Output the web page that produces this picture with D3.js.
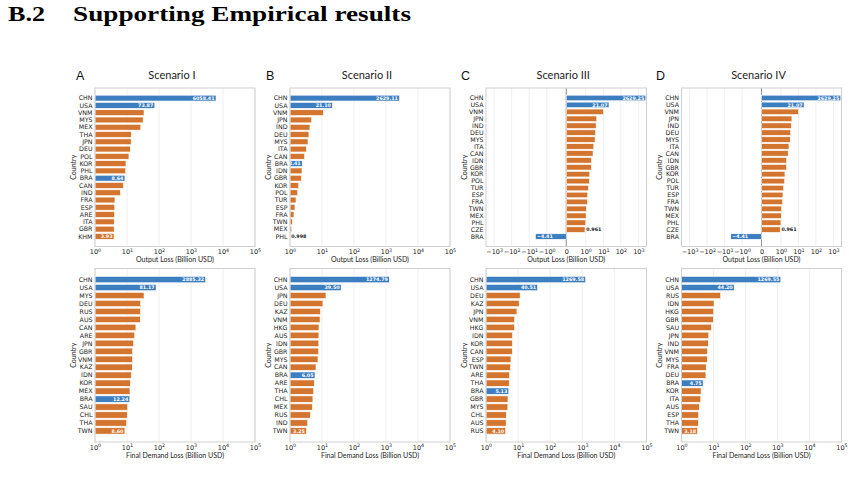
<!DOCTYPE html>
<html>
<head>
<meta charset="utf-8">
<script src="https://cdn.jsdelivr.net/npm/d3@7"></script>
<style>
  body { margin: 0; background: #fff; }
</style>
</head>
<body>
<svg id="fig" width="852" height="490"></svg>
<script>
// ---- data (Billion USD) ----
const highlight = ["CHN", "USA", "BRA"];

// Output loss, scenarios I - IV
const outCountriesI = ["CHN","USA","VNM","MYS","MEX","THA","JPN","DEU","POL","KOR","PHL","BRA","CAN","IND","FRA","ESP","ARE","ITA","GBR","KHM"];
const outValuesI = [6058.41, 73.87, 34, 32, 27, 13.6, 13.5, 12.7, 11.5, 9.3, 9.1, 8.64, 7.7, 6.2, 4.2, 4.15, 4.1, 4.0, 3.98, 3.93];

const outCountriesII = ["CHN","USA","VNM","JPN","IND","DEU","MYS","ITA","CAN","BRA","IDN","GBR","KOR","POL","TUR","ESP","FRA","TWN","MEX","PHL"];
const outValuesII = [2629.11, 21.10, 11, 4.75, 4.2, 3.9, 3.65, 3.24, 2.87, 2.41, 2.37, 2.26, 1.87, 1.74, 1.54, 1.43, 1.33, 1.18, 1.13, 0.998];

const outCountriesIII = ["CHN","USA","VNM","JPN","IND","DEU","MYS","ITA","CAN","IDN","GBR","KOR","POL","TUR","ESP","FRA","TWN","MEX","PHL","CZE","BRA"];
const outValuesIII = [2629.25, 21.07, 10.2, 4.25, 3.9, 3.6, 3.4, 2.87, 2.6, 2.12, 2.1, 1.7, 1.62, 1.42, 1.3, 1.25, 1.09, 1.05, 1.0, 0.961, -4.41];

const outCountriesIV = ["CHN","USA","VNM","JPN","IND","DEU","MYS","ITA","CAN","IDN","GBR","KOR","POL","TUR","ESP","FRA","TWN","MEX","PHL","CZE","BRA"];
const outValuesIV = [2629.25, 21.07, 10.2, 4.25, 3.9, 3.6, 3.4, 2.87, 2.6, 2.12, 2.1, 1.7, 1.62, 1.42, 1.3, 1.25, 1.09, 1.05, 1.0, 0.961, -4.41];

// Final demand loss, scenarios I - IV
const fdCountriesI = ["CHN","USA","MYS","DEU","RUS","AUS","CAN","ARE","JPN","GBR","VNM","KAZ","IDN","KOR","MEX","BRA","SAU","CHL","THA","TWN"];
const fdValuesI = [2885.32, 81.17, 34, 26.7, 26.5, 26, 19, 17.4, 16.1, 15, 14.9, 14.7, 13.6, 12.8, 12.4, 12.24, 10.5, 10.2, 9.8, 8.60];

const fdCountriesII = ["CHN","USA","JPN","DEU","KAZ","VNM","HKG","AUS","IDN","GBR","MYS","CAN","BRA","ARE","THA","CHL","MEX","RUS","IND","TWN"];
const fdValuesII = [1274.79, 39.50, 13.3, 10.7, 8.9, 8.7, 8.05, 8.0, 7.95, 7.9, 7.5, 6.5, 6.05, 5.75, 5.5, 5.2, 5.0, 4.3, 3.57, 3.25];

const fdCountriesIII = ["CHN","USA","DEU","KAZ","JPN","VNM","HKG","IDN","KOR","CAN","ESP","TWN","ARE","THA","BRA","GBR","MYS","CHL","AUS","RUS"];
const fdValuesIII = [1269.58, 40.51, 11.6, 10.8, 9.2, 7.8, 7.7, 6.7, 6.65, 6.6, 6.0, 5.8, 5.4, 5.3, 5.13, 4.85, 4.8, 4.3, 4.25, 4.10];

const fdCountriesIV = ["CHN","USA","RUS","IDN","HKG","GBR","SAU","JPN","IND","VNM","MYS","FRA","DEU","BRA","KOR","ITA","AUS","ESP","THA","TWN"];
const fdValuesIV = [1269.55, 44.20, 16.7, 10.4, 10.1, 9.9, 8.6, 7.1, 6.9, 6.45, 6.4, 5.9, 5.8, 4.75, 4.1, 4.0, 3.6, 3.45, 3.4, 3.18];

const scenarioTitles = ["Scenario I", "Scenario II", "Scenario III", "Scenario IV"];
const panelLetters = ["A", "B", "C", "D"];
const logTickExps = [0, 1, 2, 3, 4, 5];
const symTickValues = [-1000, -100, -10, -1, 0, 1, 10, 100, 1000];

const blue = "#3c7ec0", orange = "#d4752f";
const tickFont = "DejaVu Sans", labelFont = "Lato";

const svg = d3.select("#fig");

// header
svg.append("text").attr("x", 8).attr("y", 21)
  .attr("font-family", "Liberation Serif").attr("font-weight", "bold").attr("font-size", 21)
  .attr("textLength", 37).attr("lengthAdjust", "spacingAndGlyphs").text("B.2");
svg.append("text").attr("x", 73).attr("y", 21)
  .attr("font-family", "Liberation Serif").attr("font-weight", "bold").attr("font-size", 21)
  .attr("textLength", 338).attr("lengthAdjust", "spacingAndGlyphs").text("Supporting Empirical results");

// matplotlib-like symlog transform (linthresh 1, linscale 1)
const symT = v => Math.abs(v) <= 1 ? v / 0.9 : Math.sign(v) * (1 / 0.9 + Math.log10(Math.abs(v)));

function supLabel(textSel, base, exp) {
  textSel.text(null);
  textSel.append("tspan").text(base);
  if (exp !== null) textSel.append("tspan").attr("dy", -2.7).attr("font-size", 4.8).text(exp);
}

function panel(opt) {
  const { left, right, top, bottom, countries, values, symlog } = opt;
  const g = svg.append("g");
  const n = countries.length;
  const marg = 0.05 * (n - 1 + 0.8) + 0.4;
  const y = d3.scaleLinear().domain([-marg, n - 1 + marg]).range([top, bottom]);
  const step = y(1) - y(0);

  let x, lin, lg;
  if (symlog) {
    lin = d3.scaleLinear().domain([symT(-opt.lim), symT(opt.lim)]).range([left, right]);
    x = v => lin(symT(v));
  } else {
    lg = d3.scaleLog().domain([1, 1e5]).range([left, right]);
    x = v => lg(v);
  }
  const base = symlog ? x(0) : left;

  // grid
  const gridVals = symlog ? symTickValues : logTickExps.map(e => Math.pow(10, e));
  g.selectAll("line.grid").data(gridVals).enter().append("line")
    .attr("x1", d => x(d)).attr("x2", d => x(d))
    .attr("y1", top).attr("y2", bottom)
    .attr("stroke", "#ebebeb").attr("stroke-width", 0.8);

  if (symlog) {
    g.append("line").attr("x1", x(0)).attr("x2", x(0)).attr("y1", top).attr("y2", bottom)
      .attr("stroke", "#777").attr("stroke-width", 0.8);
  }

  // bars
  g.selectAll("rect.bar").data(values).enter().append("rect")
    .attr("x", d => Math.min(base, Math.max(left, x(d))))
    .attr("width", d => Math.abs(Math.max(left, x(d)) - base))
    .attr("y", (d, i) => y(i) - 0.4 * step)
    .attr("height", 0.8 * step)
    .attr("fill", (d, i) => highlight.includes(countries[i]) ? blue : orange)
    .attr("stroke", "#fff").attr("stroke-width", 0.6);

  // value labels: highlighted bars and the last orange bar
  let lastOrange = -1;
  countries.forEach((c, i) => { if (!highlight.includes(c)) lastOrange = i; });
  values.forEach((v, i) => {
    if (!highlight.includes(countries[i]) && i !== lastOrange) return;
    const end = Math.max(left, x(v));
    const txt = Math.abs(v) < 1 ? d3.format(".3f")(v) : d3.format(".2f")(v);
    const inside = Math.abs(v) >= 1;
    const t = g.append("text")
      .attr("y", y(i)).attr("dy", "0.36em")
      .attr("font-family", tickFont).attr("font-weight", "bold").attr("font-size", 4.8)
      .text(txt);
    if (inside) {
      t.attr("fill", "#fff")
        .attr("x", v >= 0 ? end - 1.5 : end + 1.5)
        .attr("text-anchor", v >= 0 ? "end" : "start");
    } else {
      t.attr("fill", "#111").attr("x", end + 1.2).attr("text-anchor", "start");
    }
  });

  // frame
  g.append("rect").attr("x", left).attr("y", top)
    .attr("width", right - left).attr("height", bottom - top)
    .attr("fill", "none").attr("stroke", "#cfcfcf").attr("stroke-width", 1);

  // y tick labels
  g.selectAll("text.cty").data(countries).enter().append("text")
    .attr("x", left - 2.5).attr("y", (d, i) => y(i)).attr("dy", "0.36em")
    .attr("text-anchor", "end").attr("font-family", tickFont).attr("font-size", 6.3)
    .attr("fill", "#222").text(d => d);

  // x axis
  const axisG = g.append("g").attr("transform", `translate(0,${bottom})`);
  if (symlog) {
    axisG.call(d3.axisBottom(lin).tickValues(symTickValues.map(symT)).tickSize(0).tickPadding(3.2));
    axisG.selectAll(".tick text").each(function (d, i) {
      const v = symTickValues[i];
      const sel = d3.select(this);
      if (v === 0) supLabel(sel, "0", null);
      else supLabel(sel, (v < 0 ? "\u2212" : "") + "10", String(Math.round(Math.log10(Math.abs(v)))));
    });
  } else {
    axisG.call(d3.axisBottom(lg).tickValues(logTickExps.map(e => Math.pow(10, e))).tickSize(0).tickPadding(3.2));
    axisG.selectAll(".tick text").each(function (d, i) {
      supLabel(d3.select(this), "10", String(logTickExps[i]));
    });
  }
  axisG.select(".domain").remove();
  axisG.selectAll(".tick text").attr("font-family", tickFont).attr("font-size", 6.5).attr("fill", "#222");

  // axis labels
  g.append("text").attr("x", (left + right) / 2).attr("y", bottom + 15.5)
    .attr("text-anchor", "middle").attr("font-family", labelFont).attr("font-size", 7)
    .attr("fill", "#222").text(opt.xlabel);
  g.append("text")
    .attr("transform", `translate(${left - 19.5},${(top + bottom) / 2}) rotate(-90)`)
    .attr("text-anchor", "middle").attr("font-family", labelFont).attr("font-size", 7)
    .attr("fill", "#222").text("Country");

  if (opt.title) {
    g.append("text").attr("x", (left + right) / 2 - 3).attr("y", 79)
      .attr("text-anchor", "middle").attr("font-family", labelFont).attr("font-size", 11)
      .attr("fill", "#222").text(opt.title);
    g.append("text").attr("x", opt.letterX).attr("y", 80)
      .attr("font-family", "Liberation Sans").attr("font-size", 12.5)
      .attr("fill", "#111").text(opt.letter);
  }
}

const cols = [
  { left: 95, right: 255, letterX: 76 },
  { left: 290, right: 450, letterX: 266 },
  { left: 486, right: 646.5, letterX: 461 },
  { left: 681.5, right: 841.5, letterX: 656 }
];
const topRow = [
  [outCountriesI, outValuesI, false],
  [outCountriesII, outValuesII, false],
  [outCountriesIII, outValuesIII, true],
  [outCountriesIV, outValuesIV, true]
];
const bottomRow = [
  [fdCountriesI, fdValuesI],
  [fdCountriesII, fdValuesII],
  [fdCountriesIII, fdValuesIII],
  [fdCountriesIV, fdValuesIV]
];

cols.forEach((c, k) => {
  panel({
    left: c.left, right: c.right, top: 88, bottom: 246.5,
    countries: topRow[k][0], values: topRow[k][1], symlog: topRow[k][2], lim: 2890,
    xlabel: "Output Loss (Billion USD)",
    title: scenarioTitles[k], letter: panelLetters[k], letterX: c.letterX
  });
  panel({
    left: c.left, right: c.right, top: 268.5, bottom: 442,
    countries: bottomRow[k][0], values: bottomRow[k][1], symlog: false,
    xlabel: "Final Demand Loss (Billion USD)"
  });
});
</script>
</body>
</html>
